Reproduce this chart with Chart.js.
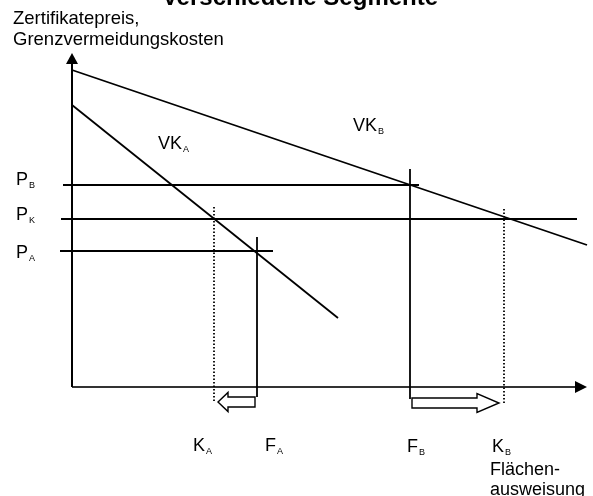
<!DOCTYPE html>
<html>
<head>
<meta charset="utf-8">
<script src="https://cdn.jsdelivr.net/npm/chart.js@4"></script>
<style>
  html, body { margin: 0; padding: 0; background: #fff; }
  #wrap { position: relative; width: 593px; height: 496px; }
</style>
</head>
<body>
<div id="wrap"><canvas id="segChart"></canvas></div>
<script>
// abatement curves (quantity, cost)
const vkA = [{ x: 0, y: 282 }, { x: 266, y: 69 }];
const vkB = [{ x: 0, y: 317 }, { x: 515, y: 142 }];
// price levels P_B, P_K, P_A
const priceLevels = [202, 168, 136];
const priceFrom = [-9, -11, -12];
const priceTo = [347, 505, 201];
// quantities F_A, F_B (solid) and K_A, K_B (dotted)
const solidX = [185, 338];
const solidTop = [150, 218];
const solidBottom = [-10, -12];
const dottedX = [142, 432];
const dottedTop = [181, 180];
const dottedBottom = [-14, -16];
// axis extents
const yAxisTop = 334;
const xAxisEnd = 515;
// shift arrows [from, to, level]
const shifts = [[183, 146, -15], [340, 427, -16]];
// text labels: [main, subscript, x, y, size]
const labels = [
  ["P", "B", -56, 202, 18],
  ["P", "K", -56, 167, 18],
  ["P", "A", -56, 129, 18],
  ["K", "A", 121, -64, 18],
  ["F", "A", 193, -64, 18],
  ["F", "B", 335, -65, 18],
  ["K", "B", 420, -65, 18],
  ["VK", "A", 86, 238, 18],
  ["VK", "B", 281, 256, 18],
  ["Flächen-", "", 418, -88, 18],
  ["ausweisung", "", 418, -108, 18],
  ["Zertifikatepreis,", "", -59, 363, 18.5],
  ["Grenzvermeidungskosten", "", -59, 342, 18.5]
];
const title = "Verschiedene Segmente";
const titlePos = [228, 382];

const FONT = '"Liberation Sans", Arial, sans-serif';

const line = (pts, dash) => ({
  data: pts, showLine: true, pointRadius: 0, borderColor: "#000",
  borderWidth: 1.8, borderDash: dash || [], fill: false
});

const datasets = [
  line(vkA), line(vkB),
  ...priceLevels.map((p, i) => line([{ x: priceFrom[i], y: p }, { x: priceTo[i], y: p }])),
  ...solidX.map((q, i) => line([{ x: q, y: solidBottom[i] }, { x: q, y: solidTop[i] }])),
  ...dottedX.map((q, i) => line([{ x: q, y: dottedBottom[i] }, { x: q, y: dottedTop[i] }], [1.5, 2])),
  { ...line([{ x: 0, y: 0 }, { x: 0, y: yAxisTop - 10 }]), borderWidth: 2 },
  { ...line([{ x: 0, y: 0 }, { x: xAxisEnd - 11, y: 0 }]), borderWidth: 2.2, borderColor: "#333" }
];

const extras = {
  id: "extras",
  afterDatasetsDraw(chart) {
    const { ctx, scales: { x, y } } = chart;
    ctx.save();
    ctx.fillStyle = "#000";
    ctx.strokeStyle = "#000";
    // axis arrow heads
    const ox = x.getPixelForValue(0), oy = y.getPixelForValue(0);
    const ty = y.getPixelForValue(yAxisTop);
    ctx.beginPath();
    ctx.moveTo(ox, ty); ctx.lineTo(ox - 6, ty + 11); ctx.lineTo(ox + 6, ty + 11);
    ctx.closePath(); ctx.fill();
    const tx = x.getPixelForValue(xAxisEnd);
    ctx.beginPath();
    ctx.moveTo(tx, oy); ctx.lineTo(tx - 12, oy - 6); ctx.lineTo(tx - 12, oy + 6);
    ctx.closePath(); ctx.fill();

    // hollow block arrows
    ctx.lineWidth = 1.4;
    shifts.forEach(([from, to, lvl]) => {
      const x0 = x.getPixelForValue(from), x1 = x.getPixelForValue(to);
      const cy = y.getPixelForValue(lvl);
      const dir = Math.sign(x1 - x0);
      const headLen = dir > 0 ? 22 : 10;
      const hb = x1 - dir * headLen;
      ctx.beginPath();
      ctx.moveTo(x0, cy - 5); ctx.lineTo(hb, cy - 5); ctx.lineTo(hb, cy - 9.5);
      ctx.lineTo(x1, cy); ctx.lineTo(hb, cy + 9.5); ctx.lineTo(hb, cy + 5);
      ctx.lineTo(x0, cy + 5); ctx.closePath();
      ctx.fillStyle = "#fff"; ctx.fill(); ctx.stroke();
    });

    // labels
    ctx.fillStyle = "#000";
    ctx.textBaseline = "alphabetic";
    ctx.textAlign = "left";
    labels.forEach(([main, sub, lx, ly, size]) => {
      const px = x.getPixelForValue(lx), py = y.getPixelForValue(ly);
      ctx.font = size + "px " + FONT;
      ctx.fillText(main, px, py);
      if (sub) {
        const w = ctx.measureText(main).width;
        ctx.font = "9px " + FONT;
        ctx.fillText(sub, px + w + 1, py + 3);
      }
    });
    ctx.font = "bold 24px " + FONT;
    ctx.textAlign = "center";
    ctx.fillText(title, x.getPixelForValue(titlePos[0]), y.getPixelForValue(titlePos[1]));
    ctx.restore();
  }
};

new Chart(document.getElementById("segChart"), {
  type: "scatter",
  data: { datasets },
  options: {
    responsive: true,
    maintainAspectRatio: false,
    animation: false,
    layout: { padding: 0 },
    plugins: { legend: { display: false }, tooltip: { enabled: false } },
    scales: {
      x: { type: "linear", min: -72, max: 521, display: false },
      y: { type: "linear", min: -109, max: 387, display: false }
    }
  },
  plugins: [extras]
});
</script>
</body>
</html>
